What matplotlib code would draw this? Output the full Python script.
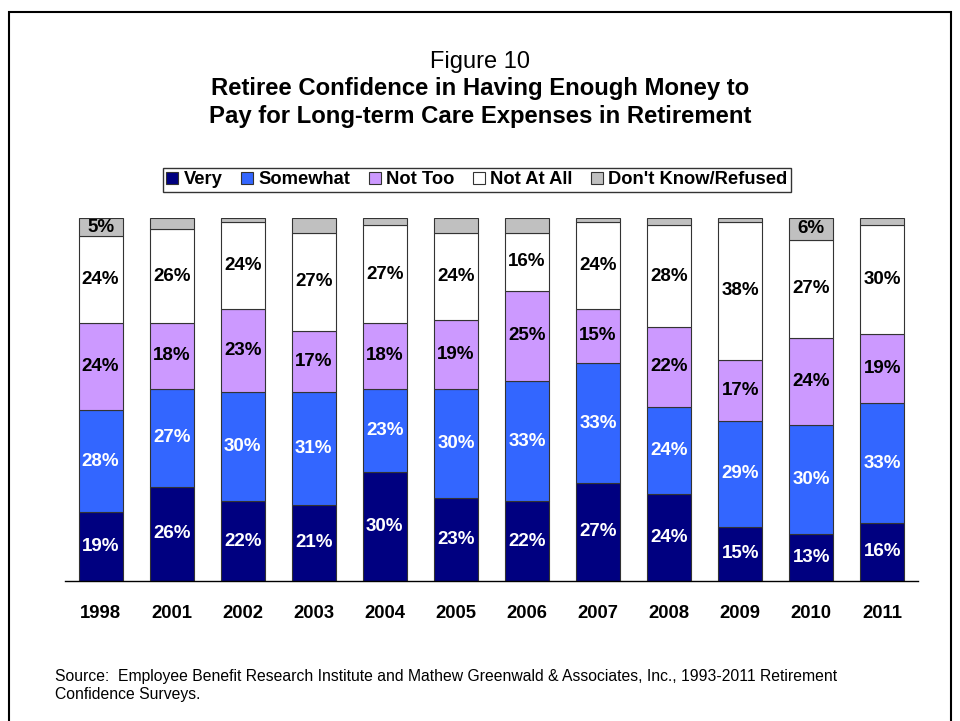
import matplotlib
matplotlib.use("Agg")
import matplotlib.pyplot as plt
from matplotlib.patches import Rectangle
import numpy as np

plt.rcParams['font.family'] = ['Liberation Sans', 'DejaVu Sans']

years = ['1998', '2001', '2002', '2003', '2004', '2005', '2006', '2007', '2008', '2009', '2010', '2011']
very = [19, 26, 22, 21, 30, 23, 22, 27, 24, 15, 13, 16]
somewhat = [28, 27, 30, 31, 23, 30, 33, 33, 24, 29, 30, 33]
not_too = [24, 18, 23, 17, 18, 19, 25, 15, 22, 17, 24, 19]
not_at_all = [24, 26, 24, 27, 27, 24, 16, 24, 28, 38, 27, 30]
dont_know = [5, 3, 1, 4, 2, 4, 4, 1, 2, 1, 6, 2]
dk_labels = ['5%', '', '', '', '', '', '', '', '', '', '6%', '']

series = [
    ('Very', very, '#000080', 'white'),
    ('Somewhat', somewhat, '#3366FF', 'white'),
    ('Not Too', not_too, '#CC99FF', 'black'),
    ('Not At All', not_at_all, '#FFFFFF', 'black'),
    ("Don't Know/Refused", dont_know, '#C0C0C0', 'black'),
]

fig = plt.figure(figsize=(9.6, 7.21), dpi=100)
fig.patches.append(Rectangle((9/960, -0.05), (951-9)/960, 1.05 - 12/721, transform=fig.transFigure,
                             fill=False, edgecolor='black', linewidth=1.5))

ax = fig.add_axes([65/960, 1-581/721, (918-65)/960, (581-218)/721])
x = np.arange(len(years))
bottom = np.zeros(len(years))
handles = []
for name, vals, color, tcolor in series:
    vals = np.array(vals, dtype=float)
    bars = ax.bar(x, vals, bottom=bottom, width=0.62, color=color, edgecolor='#333333', linewidth=0.8, label=name)
    handles.append(bars)
    for i, v in enumerate(vals):
        if name == "Don't Know/Refused":
            lab = dk_labels[i]
        else:
            lab = f'{int(v)}%'
        if lab:
            ax.text(x[i], bottom[i] + v / 2, lab, ha='center', va='center', color=tcolor,
                    fontsize=13.5, fontweight='bold')
    bottom += vals

ax.set_xlim(-0.5, 11.5)
ax.set_ylim(0, 100)
for s in ['top', 'right', 'left']:
    ax.spines[s].set_visible(False)
ax.spines['bottom'].set_color('black')
ax.spines['bottom'].set_linewidth(1.0)
ax.set_yticks([])
ax.set_xticks(x)
ax.set_xticklabels(years, fontsize=13.3, fontweight='bold')
ax.tick_params(axis='x', length=0, pad=17)

fig.text(0.5, 1-62/721, 'Figure 10', ha='center', va='center', fontsize=17)
fig.text(0.5, 1-89/721, 'Retiree Confidence in Having Enough Money to', ha='center', va='center',
         fontsize=17.2, fontweight='bold')
fig.text(0.5, 1-117/721, 'Pay for Long-term Care Expenses in Retirement', ha='center', va='center',
         fontsize=17.2, fontweight='bold')

leg = fig.legend(handles=handles, loc='center', bbox_to_anchor=(477/960, 1-180/721), ncol=5,
                 frameon=True, fancybox=False, edgecolor='black', prop={'weight': 'bold', 'size': 13.2},
                 handlelength=0.65, handleheight=0.65, handletextpad=0.3, columnspacing=1.0,
                 borderpad=0.2)
leg.get_frame().set_linewidth(1.0)

fig.text(55/960, 1-676/721, 'Source:  Employee Benefit Research Institute and Mathew Greenwald & Associates, Inc., 1993-2011 Retirement',
         ha='left', va='center', fontsize=11.3)
fig.text(55/960, 1-694/721, 'Confidence Surveys.', ha='left', va='center', fontsize=11.3)

fig.savefig('out.png', dpi=100)
